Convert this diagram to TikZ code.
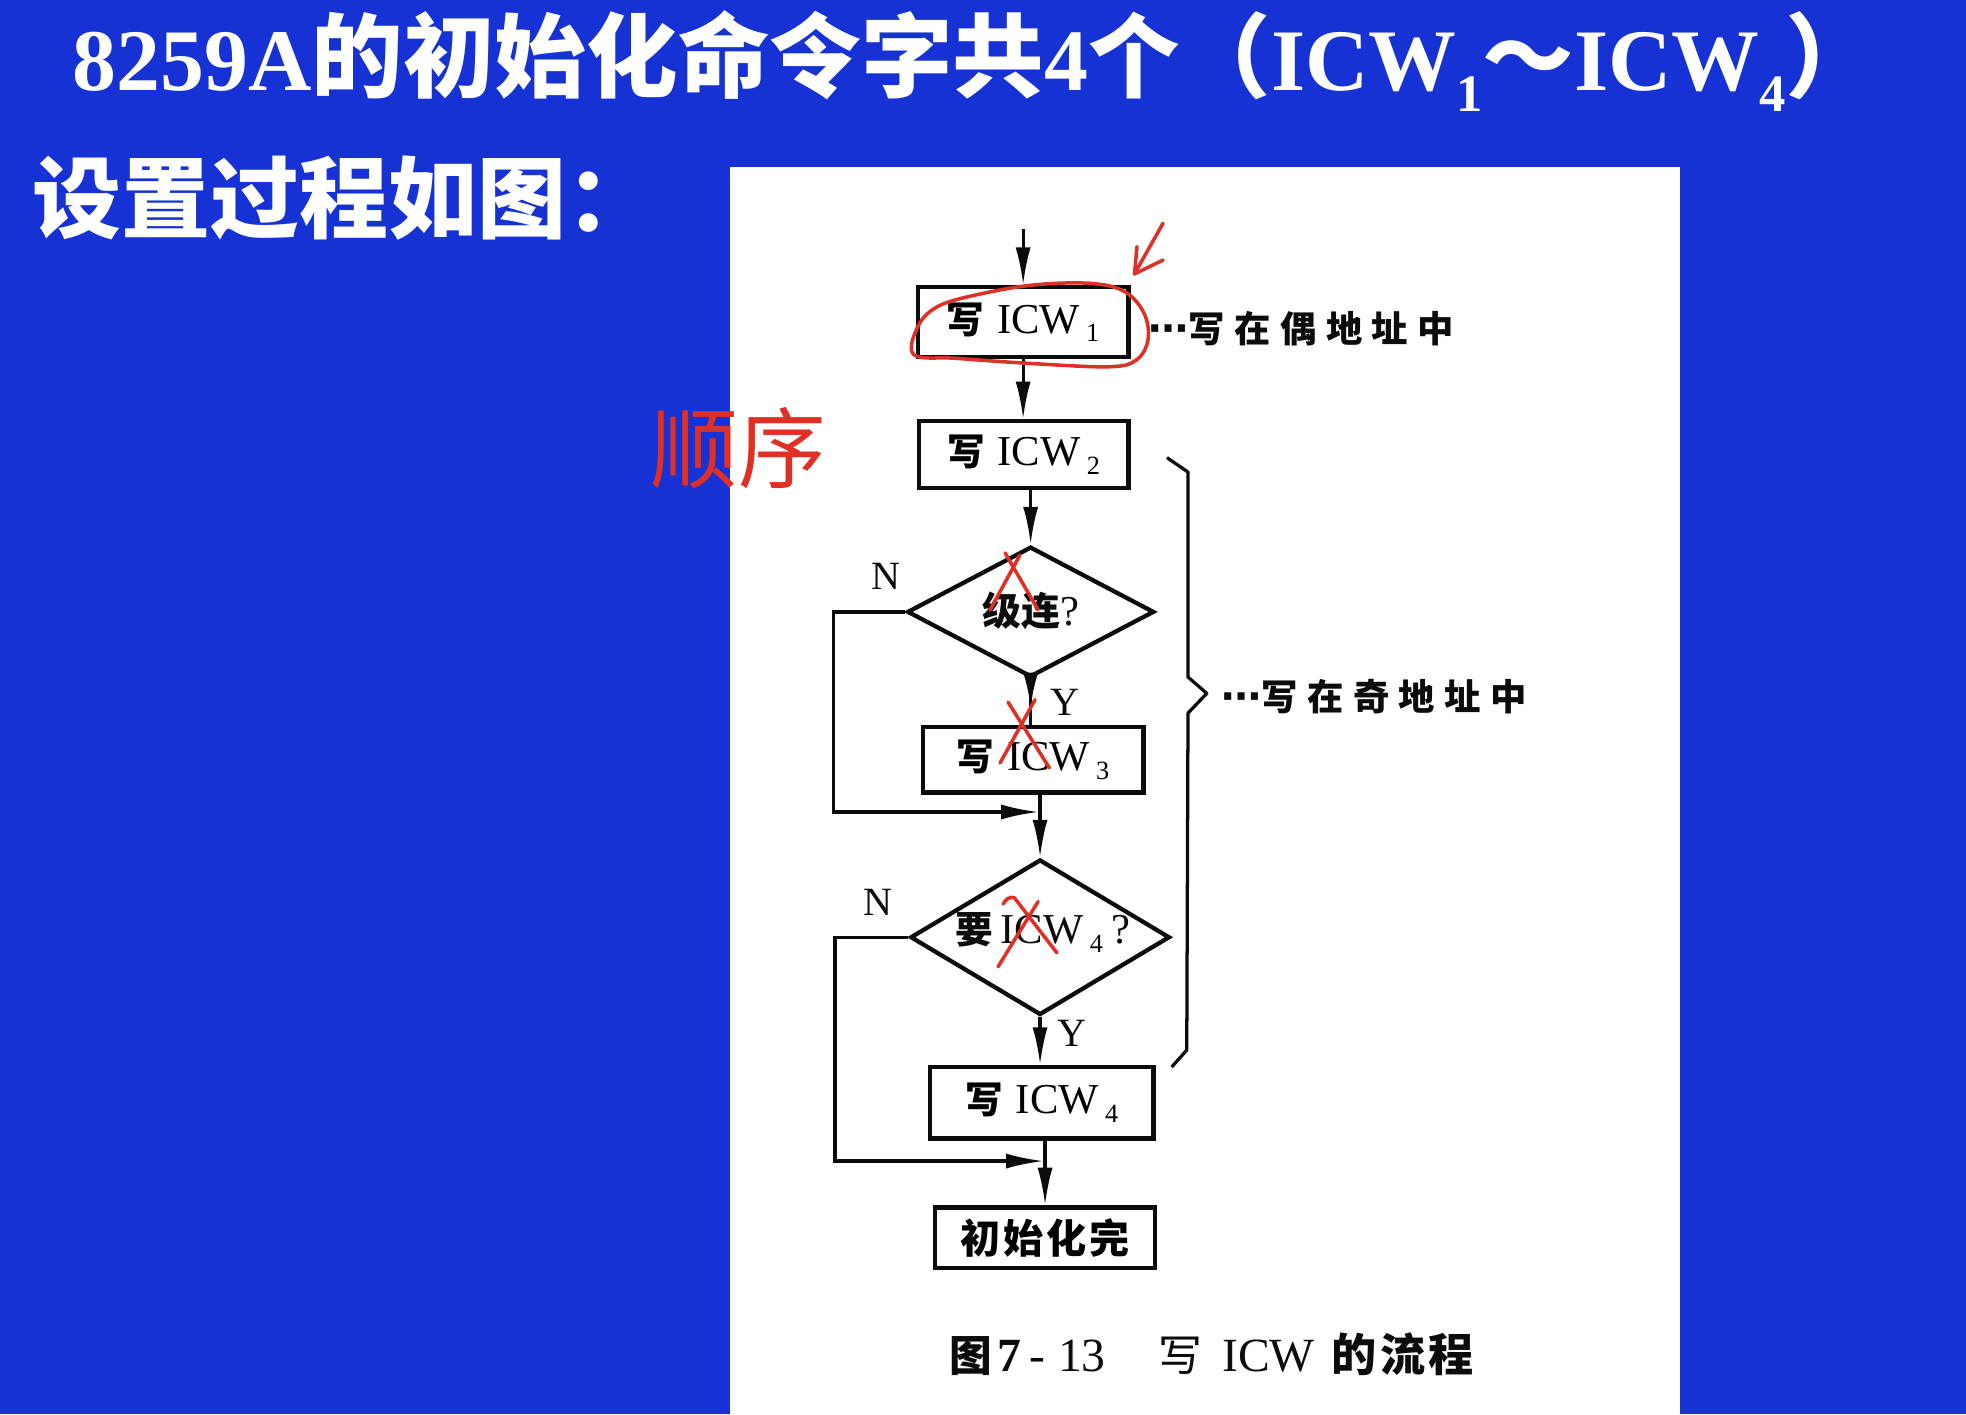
\documentclass[tikz,border=0pt]{standalone}
\usepackage{fontspec}
\setmainfont{Liberation Serif}
\newfontfamily\cjk{Noto Sans CJK SC}
\newfontfamily\dejavu{DejaVu Sans}
\usetikzlibrary{arrows.meta,shapes.geometric,decorations.markings}
\definecolor{bgblue}{RGB}{22,50,212}
\definecolor{inkred}{RGB}{222,48,36}
\definecolor{ink}{RGB}{12,12,12}
\newcommand\xie{{\cjk\bfseries\fontsize{30}{30}\selectfont 写}}
\newcommand\icwsub[1]{{\fontsize{34}{34}\selectfont ICW}\hspace{5pt}\raisebox{-7pt}{\fontsize{21}{21}\selectfont #1}}
\newcommand\boxlabel[1]{\xie\hspace{10pt}\icwsub{#1}}
\newcommand\tcjk[1]{{\cjk\fontsize{73}{73}\selectfont #1}}
\tikzset{
  fbox/.style={draw=ink, line width=3.4pt, inner sep=0pt, fill=white},
  fdia/.style={diamond, draw=ink, line width=3.4pt, inner sep=0pt},
  conn/.style={draw=ink, line width=2.6pt},
  arr/.style={-{Latex[length=30pt,width=12pt]}},
  midarr/.style={postaction={decorate}, decoration={markings, mark=at position #1 with {\arrow{Latex[length=28pt,width=12pt]}}}},
  lbl/.style={inner sep=0pt, text=ink, font=\fontsize{32}{32}\selectfont},
  redink/.style={draw=inkred, line width=2.8pt, line cap=round, line join=round},
}
\begin{document}
\begin{tikzpicture}[x=1pt,y=-1pt]
\useasboundingbox (0,0) rectangle (1568,1128);
\fill[bgblue] (0,0) rectangle (1568,1128);
\fill[white] (582,133) rectangle (1340,1128);

% title lines
\node[anchor=base west, inner sep=0pt, text=white, font=\fontsize{70}{70}\selectfont\bfseries] (title) at (58,72)
 {8259A\tcjk{的初始化命令字共}4\tcjk{个（}ICW\raisebox{-17pt}{\fontsize{42}{42}\selectfont 1}\tcjk{～}ICW\raisebox{-17pt}{\fontsize{42}{42}\selectfont 4}\tcjk{）}};
\node[anchor=west, inner sep=0pt, text=white, font=\cjk\bfseries\fontsize{71}{71}\selectfont] (sub) at (26,158) {设置过程如图：};

% flowchart
\node[fbox, minimum width=168pt, minimum height=56pt] (b1) at (816,257) {\boxlabel{1}};
\node[fbox, minimum width=167pt, minimum height=53pt] (b2) at (816.5,362.5) {\boxlabel{2}};
\node[fdia, minimum width=197pt, minimum height=104pt] (d1) at (822,488) {};
\node[inner sep=0pt, text=ink] (d1t) at (822,487) {{\cjk\bfseries\fontsize{31}{31}\selectfont 级连}{\fontsize{34}{34}\selectfont ?}};
\node[fbox, minimum width=176pt, minimum height=52pt] (b3) at (824,606) {\boxlabel{3}};
\node[fdia, minimum width=207pt, minimum height=124pt] (d2) at (829.5,747.5) {};
\node[inner sep=0pt, text=ink] (d2t) at (832,744) {{\cjk\bfseries\fontsize{30}{30}\selectfont 要}\hspace{6pt}\icwsub{4}\hspace{7pt}{\fontsize{34}{34}\selectfont ?}};
\node[fbox, minimum width=178pt, minimum height=57pt] (b4) at (831,879.5) {\boxlabel{4}};
\node[fbox, minimum width=175pt, minimum height=48pt] (b5) at (833.5,987) {{\cjk\bfseries\fontsize{32}{32}\selectfont 初\hspace{2.5pt}始\hspace{2.5pt}化\hspace{2.5pt}完}};

\coordinate (start) at (816,183);
\coordinate (j1) at (829.5,647.6);
\coordinate (n1c) at (665,560);
\coordinate (j2) at (833.5,926);
\coordinate (n2c) at (666,830);

\draw[conn, arr] (start) -- (b1.north);
\draw[conn, arr] (b1.south) -- (b1.south |- b2.north);
\draw[conn, arr] (d1.north |- b2.south) -- (d1.north);
\draw[conn, midarr=0.62] (d1.south) -- (d1.south |- b3.north);
\draw[conn, arr] (d2.north |- b3.south) -- (d2.north);
\draw[conn, arr, shorten >=1pt] (d1.west) -| (n1c) |- (j1);
\draw[conn, arr] (d2.south) -- (d2.south |- b4.north);
\draw[conn, arr] (b5.north |- b4.south) -- (b5.north);
\draw[conn, arr, shorten >=1pt] (d2.west) -| (n2c) |- (j2);

\node[lbl] (n1) at (706.5,460) {N};
\node[lbl] (y1) at (849.5,560.5) {Y};
\node[lbl] (n2) at (700,719.5) {N};
\node[lbl] (y2) at (855,824) {Y};

% brace
\coordinate (bt) at (962.5,553);
\draw[draw=ink, line width=2.6pt, line join=round] (930.7,365) -- (947.5,376.5) -- (947.5,540) -- (bt) -- (947.5,568.7) -- (946.5,837.5) -- (934.5,851);

% side labels
\node[anchor=west, inner sep=0pt, text=ink] (lab1) at (916,262)
 {{\dejavu\bfseries\fontsize{32}{32}\selectfont ⋯}{\cjk\bfseries\fontsize{29}{29}\selectfont 写\hspace{7.5pt}在\hspace{7.5pt}偶\hspace{7.5pt}地\hspace{7.5pt}址\hspace{7.5pt}中}};
\node[anchor=west, inner sep=0pt, text=ink] (lab2) at (974,556)
 {{\dejavu\bfseries\fontsize{32}{32}\selectfont ⋯}{\cjk\bfseries\fontsize{29}{29}\selectfont 写\hspace{7.5pt}在\hspace{7.5pt}奇\hspace{7.5pt}地\hspace{7.5pt}址\hspace{7.5pt}中}};

% caption
\node[anchor=west, inner sep=0pt, text=ink] (cap) at (757,1080)
 {{\cjk\bfseries\fontsize{34}{34}\selectfont 图}\hspace{4pt}{\fontsize{38}{38}\selectfont\bfseries 7}{\fontsize{38}{38}\selectfont\hspace{7pt}-\hspace{10pt}13}\hspace{42pt}{\cjk\fontsize{35}{35}\selectfont 写}\hspace{16pt}{\fontsize{38}{38}\selectfont ICW}\hspace{13pt}{\cjk\bfseries\fontsize{36}{36}\selectfont 的\hspace{3pt}流\hspace{3pt}程}};

% red annotations
\node[inner sep=0pt, text=inkred, font=\cjk\fontsize{70}{70}\selectfont] (shunxu) at (589,357) {顺序};
\draw[redink] plot[smooth cycle, tension=0.6] coordinates {(729,283) (732,260.5) (747.6,244.6) (778,235.3) (824,227.3) (869.8,226) (897,232.6) (912.5,250) (915.6,271) (906.4,287) (885,292.5) (824,290) (763,285.8)};
\coordinate (rt) at (904.8,218.5);
\draw[redink] (927.6,178) -- (rt);
\draw[redink] (906.8,196.7) -- (rt) -- (927.6,207.4);
\draw[redink] (801.6,441) -- (828,486.5);
\draw[redink] (813.5,442.6) -- (789.6,486.5);
\draw[redink] (804,560) -- (837,612.5);
\draw[redink] (825.5,558) -- (797.6,608.5);
\draw[redink] (800,721) to[out=60,in=160] (809,716) -- (843,760);
\draw[redink] (828,719) -- (796,771);
\end{tikzpicture}
\end{document}
